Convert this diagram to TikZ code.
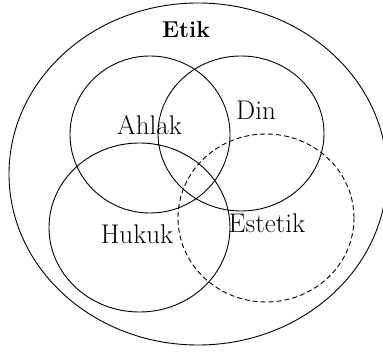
\documentclass[tikz,border=0pt]{standalone}
\begin{document}
\begin{tikzpicture}[x=1pt,y=-1pt,
  ring/.style={draw=black,line width=0.9pt},
  dashring/.style={ring,dash pattern=on 5pt off 3pt},
  lbl/.style={anchor=base,inner sep=0pt,font=\fontsize{27}{31}\selectfont},
  ttl/.style={anchor=base,inner sep=0pt,font=\fontsize{23}{27}\selectfont\bfseries}]
\useasboundingbox (0,0) rectangle (383,352);
\begin{scope}
\clip (0,0) rectangle (383,352);
\draw[ring] (198,174) ellipse [x radius=189pt, y radius=171pt];
\end{scope}
\draw[ring] (150,134.5) ellipse [x radius=80pt, y radius=78.5pt];
\draw[ring] (241,133.5) ellipse [x radius=83pt, y radius=77.5pt];
\draw[ring] (139.5,227.5) ellipse [x radius=90.5pt, y radius=84.5pt];
\draw[dashring] (266,218) ellipse [x radius=88pt, y radius=84pt];
\node[ttl] (etik) at (186,37.3) {Etik};
\node[lbl] (ahlak) at (149.5,135) {Ahlak};
\node[lbl] (din) at (256,119.5) {Din};
\node[lbl] (hukuk) at (137,244) {Hukuk};
\node[lbl] (estetik) at (267,232.5) {Estetik};
\end{tikzpicture}
\end{document}
